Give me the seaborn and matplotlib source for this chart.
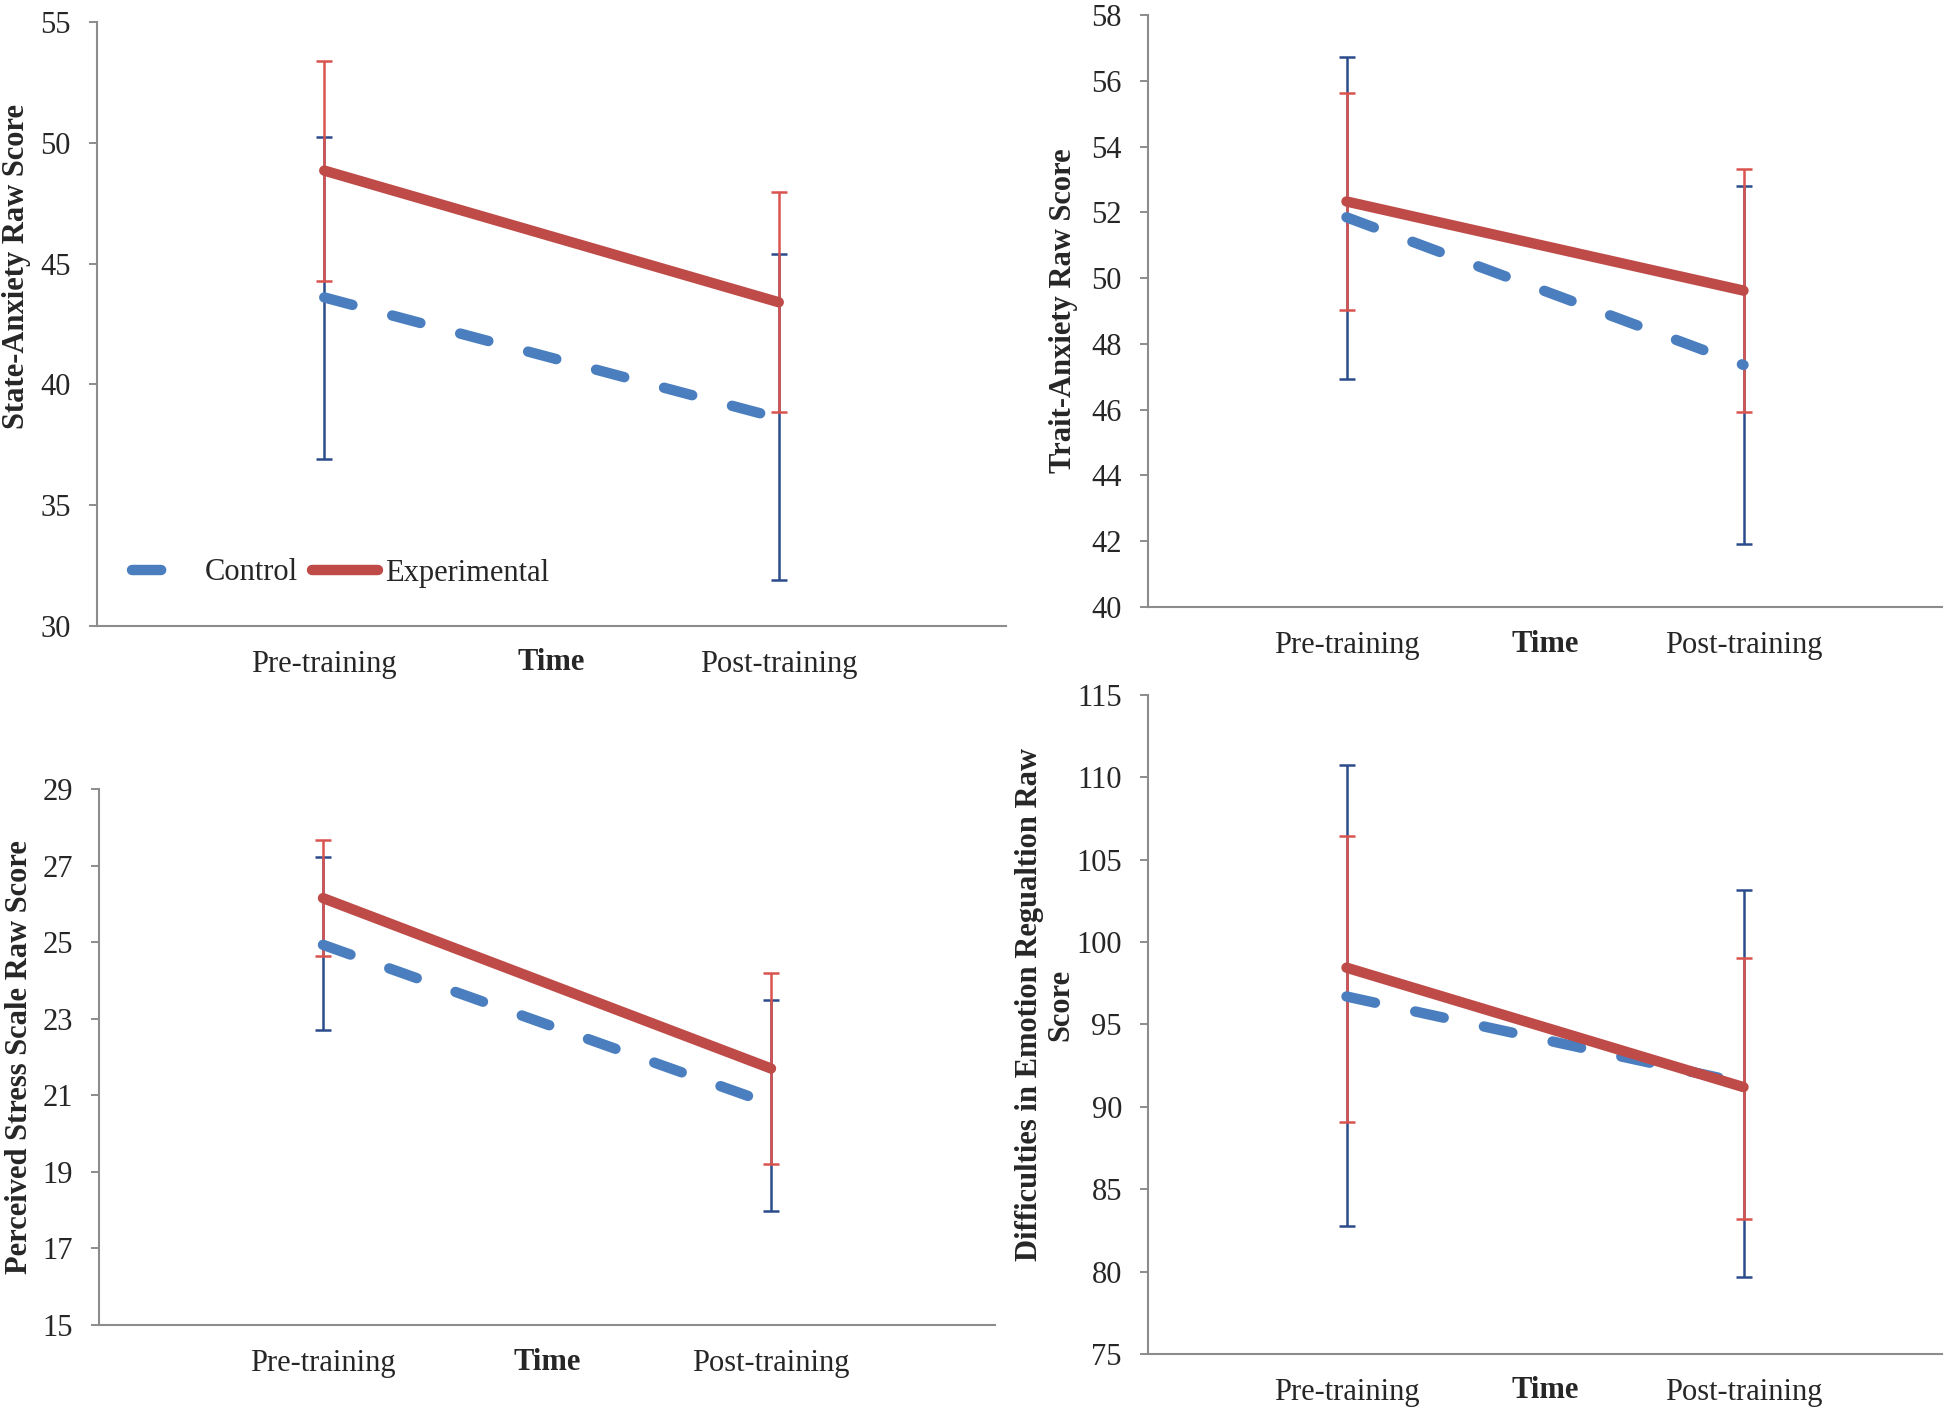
import numpy as np
import pandas as pd
import matplotlib
matplotlib.use("Agg")
import matplotlib.pyplot as plt
import seaborn as sns

# ---------------- data ----------------
times = ["Pre-training", "Post-training"]
groups = ["Control", "Experimental"]

state_control = [43.6, 38.6]
state_control_lo = [36.9, 31.9]
state_control_hi = [50.25, 45.4]
state_exp = [48.85, 43.4]
state_exp_lo = [44.3, 38.85]
state_exp_hi = [53.4, 47.95]

trait_control = [51.85, 47.36]
trait_control_lo = [46.94, 41.92]
trait_control_hi = [56.72, 52.79]
trait_exp = [52.33, 49.62]
trait_exp_lo = [49.02, 45.92]
trait_exp_hi = [55.62, 53.32]

pss_control = [24.93, 20.77]
pss_control_lo = [22.71, 17.98]
pss_control_hi = [27.22, 23.49]
pss_exp = [26.15, 21.7]
pss_exp_lo = [24.63, 19.21]
pss_exp_hi = [27.67, 24.2]

ders_control = [96.7, 91.44]
ders_control_lo = [82.76, 79.7]
ders_control_hi = [110.76, 103.18]
ders_exp = [98.45, 91.2]
ders_exp_lo = [89.06, 83.18]
ders_exp_hi = [106.45, 99.06]

panels = [
    dict(label="State-Anxiety Raw Score", ylim=(30, 55), ticks=np.arange(30, 56, 5),
         c=state_control, clo=state_control_lo, chi=state_control_hi,
         e=state_exp, elo=state_exp_lo, ehi=state_exp_hi),
    dict(label="Trait-Anxiety Raw Score", ylim=(40, 58), ticks=np.arange(40, 59, 2),
         c=trait_control, clo=trait_control_lo, chi=trait_control_hi,
         e=trait_exp, elo=trait_exp_lo, ehi=trait_exp_hi),
    dict(label="Perceived Stress Scale Raw Score", ylim=(15, 29), ticks=np.arange(15, 30, 2),
         c=pss_control, clo=pss_control_lo, chi=pss_control_hi,
         e=pss_exp, elo=pss_exp_lo, ehi=pss_exp_hi),
    dict(label="Difficulties in Emotion Regualtion Raw\nScore", ylim=(75, 115), ticks=np.arange(75, 116, 5),
         c=ders_control, clo=ders_control_lo, chi=ders_control_hi,
         e=ders_exp, elo=ders_exp_lo, ehi=ders_exp_hi),
]

# ---------------- style ----------------
sns.set_style("white")
plt.rcParams['font.family'] = ['Liberation Serif', 'DejaVu Serif']

W, H = 1946, 1411
fig = plt.figure(figsize=(W / 100, H / 100), dpi=100)

# axes boxes in pixels: left, right, top, bottom
boxes = [(97, 1006, 22, 626), (1148, 1942, 15, 607),
         (99, 995, 789, 1325), (1148, 1942, 695, 1354)]
ylabel_pos = [(-80, 0.596), (-84, 0.50), (-79, 0.50), (-103, 0.53)]

BLUE = "#4A7EBF"
RED = "#BF4B48"
BLUE_ERR = "#2B4C8C"
RED_ERR = "#D9534F"
SPINE = "#8C8C8C"
LW = 7.5
FS = 22

for i, (p, (l, r, t, b)) in enumerate(zip(panels, boxes)):
    ax = fig.add_axes([l / W, (H - b) / H, (r - l) / W, (b - t) / H])
    xpos = np.arange(len(times))
    df = pd.DataFrame({
        "Time": times * 2,
        "x": np.concatenate([xpos, xpos]),
        "Group": [groups[0]] * 2 + [groups[1]] * 2,
        "Score": list(p["c"]) + list(p["e"]),
    })
    # error bars
    for g, mean, lo, hi, col in [(groups[0], p["c"], p["clo"], p["chi"], BLUE_ERR),
                                 (groups[1], p["e"], p["elo"], p["ehi"], RED_ERR)]:
        mean = np.array(mean)
        yerr = np.vstack([mean - np.array(lo), np.array(hi) - mean])
        ax.errorbar(xpos, mean, yerr=yerr, fmt="none", ecolor=col, elinewidth=1.8,
                    capsize=5.8, capthick=1.8, zorder=2)
    # lines
    sns.lineplot(data=df[df.Group == groups[0]], x="x", y="Score", ax=ax, color=BLUE,
                 lw=LW, linestyle=(0, (2.8, 3.95)), dash_capstyle="round",
                 label=groups[0], zorder=3, legend=False)
    sns.lineplot(data=df[df.Group == groups[1]], x="x", y="Score", ax=ax, color=RED,
                 lw=LW, solid_capstyle="round", label=groups[1], zorder=4, legend=False)

    ax.set_xlim(-0.5, len(times) - 0.5)
    ax.set_ylim(*p["ylim"])
    ax.set_yticks(p["ticks"])
    ax.set_yticklabels([str(v) for v in p["ticks"]])
    ax.set_xticks(xpos)
    ax.set_xticklabels(times)
    ax.set_xticks([-0.5, 0.5, len(times) - 0.5], minor=True)
    ax.tick_params(axis="x", which="major", length=0, pad=17, labelsize=FS)
    ax.tick_params(axis="x", which="minor", length=5.5, width=1.4, color=SPINE, direction="out")
    ax.tick_params(axis="y", which="major", length=5.8, width=1.4, color=SPINE,
                   direction="out", pad=13, labelsize=FS, left=True)
    for s in ["top", "right"]:
        ax.spines[s].set_visible(False)
    for s in ["left", "bottom"]:
        ax.spines[s].set_color(SPINE)
        ax.spines[s].set_linewidth(1.5)

    ax.set_xlabel("Time", fontsize=FS, fontweight="bold", va="center")
    ax.xaxis.set_label_coords(0.5, -37 / (b - t))
    ax.set_ylabel(p["label"], fontsize=FS, fontweight="bold", va="center", ha="center",
                  linespacing=1.12)
    ax.yaxis.set_label_coords(ylabel_pos[i][0] / (r - l), ylabel_pos[i][1])

    if i == 0:
        ax.legend(loc="center left", bbox_to_anchor=(35 / (r - l), 53 / (b - t)),
                  ncol=2, frameon=False, fontsize=FS, handlelength=2.16,
                  handletextpad=0.23, columnspacing=0.46, borderaxespad=0, borderpad=0)

fig.savefig("out.png", dpi=100, facecolor="white")
